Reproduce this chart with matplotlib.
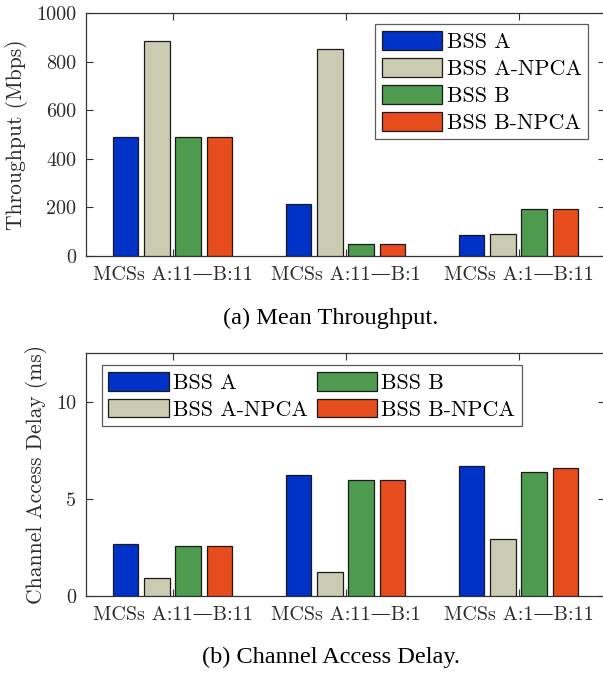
import numpy as np
import matplotlib
matplotlib.use("Agg")
import matplotlib.pyplot as plt

# -------------------------------
# Dati
# -------------------------------
scenari = ["MCSs A:11\u2014B:11", "MCSs A:11\u2014B:1", "MCSs A:1\u2014B:11"]
serie = ["BSS A", "BSS A-NPCA", "BSS B", "BSS B-NPCA"]
colori = ["#0032C8", "#CBCBB2", "#4E9A4E", "#E64C1C"]

# Throughput medio (Mbps)
thr_bss_a = [491, 214, 88]
thr_bss_a_npca = [884, 851, 92]
thr_bss_b = [491, 48, 195]
thr_bss_b_npca = [491, 48, 195]

# Ritardo di accesso al canale (ms)
del_bss_a = [2.70, 6.24, 6.70]
del_bss_a_npca = [0.91, 1.22, 2.94]
del_bss_b = [2.56, 5.98, 6.41]
del_bss_b_npca = [2.56, 5.98, 6.60]

thr = [thr_bss_a, thr_bss_a_npca, thr_bss_b, thr_bss_b_npca]
ritardo = [del_bss_a, del_bss_a_npca, del_bss_b, del_bss_b_npca]

# -------------------------------
# Stile
# -------------------------------
font_cm = ["cmr10", "DejaVu Serif"]
plt.rcParams["font.family"] = font_cm
plt.rcParams["mathtext.fontset"] = "cm"
plt.rcParams["axes.formatter.use_mathtext"] = True
plt.rcParams["axes.unicode_minus"] = False

fig = plt.figure(figsize=(6.03, 6.73), dpi=100)
W, H = 603, 673
ax1 = fig.add_axes([86 / W, 1 - 256 / H, 519 / W, 243 / H])
ax2 = fig.add_axes([86 / W, 1 - 596 / H, 519 / W, 242.7 / H])

x = np.arange(1, len(scenari) + 1)
passo = 0.181
larg = 0.147
offs = (np.arange(len(serie)) - 1.5) * passo


def disegna(ax, dati, ymax, yticks, ylabel):
    for i, (vals, nome, col) in enumerate(zip(dati, serie, colori)):
        ax.bar(x + offs[i], vals, width=larg, color=col, edgecolor="#1a1a1a",
               linewidth=0.9, label=nome, zorder=3)
    ax.set_xlim(0.5, 3.5)
    ax.set_ylim(0, ymax)
    ax.set_xticks(x)
    ax.set_xticklabels(scenari, fontsize=14.5, color="#2b2b2b")
    ax.set_yticks(yticks)
    ax.set_yticklabels([str(t) for t in yticks], fontsize=14.5, color="#2b2b2b")
    ax.set_ylabel(ylabel, fontsize=15.5, color="#2b2b2b", labelpad=6)
    ax.tick_params(direction="in", top=True, right=True, length=5, width=0.8,
                   color="#333333", pad=7)
    for s in ax.spines.values():
        s.set_color("#333333")
        s.set_linewidth(0.9)


disegna(ax1, thr, 1000, [0, 200, 400, 600, 800, 1000], "Throughput (Mbps)")
disegna(ax2, ritardo, 12.5, [0, 5, 10], "Channel Access Delay (ms)")

prop_leg = {"family": font_cm, "size": 15.8}

leg1 = ax1.legend(loc="upper right", bbox_to_anchor=(588 / W, 1 - 24.3 / H),
                  bbox_transform=fig.transFigure, prop=prop_leg, frameon=True,
                  fancybox=False, edgecolor="#333333", handlelength=2.75,
                  handleheight=0.95, handletextpad=0.2, borderpad=0.3,
                  labelspacing=0.27, borderaxespad=0)
leg1.get_frame().set_linewidth(0.9)

leg2 = ax2.legend(loc="upper left", bbox_to_anchor=(101.7 / W, 1 - 365 / H),
                  bbox_transform=fig.transFigure, ncol=2, prop=prop_leg, frameon=True,
                  fancybox=False, edgecolor="#333333", handlelength=2.75,
                  handleheight=0.95, handletextpad=0.2, borderpad=0.3,
                  labelspacing=0.27, columnspacing=0.4, borderaxespad=0)
leg2.get_frame().set_linewidth(0.9)

fig.text(331 / W, 1 - 318 / H, "(a) Mean Throughput.", family="Liberation Serif",
         fontsize=17.5, ha="center", va="center")
fig.text(331 / W, 1 - 657 / H, "(b) Channel Access Delay.", family="Liberation Serif",
         fontsize=17.5, ha="center", va="center")

fig.savefig("out.png", dpi=100)
